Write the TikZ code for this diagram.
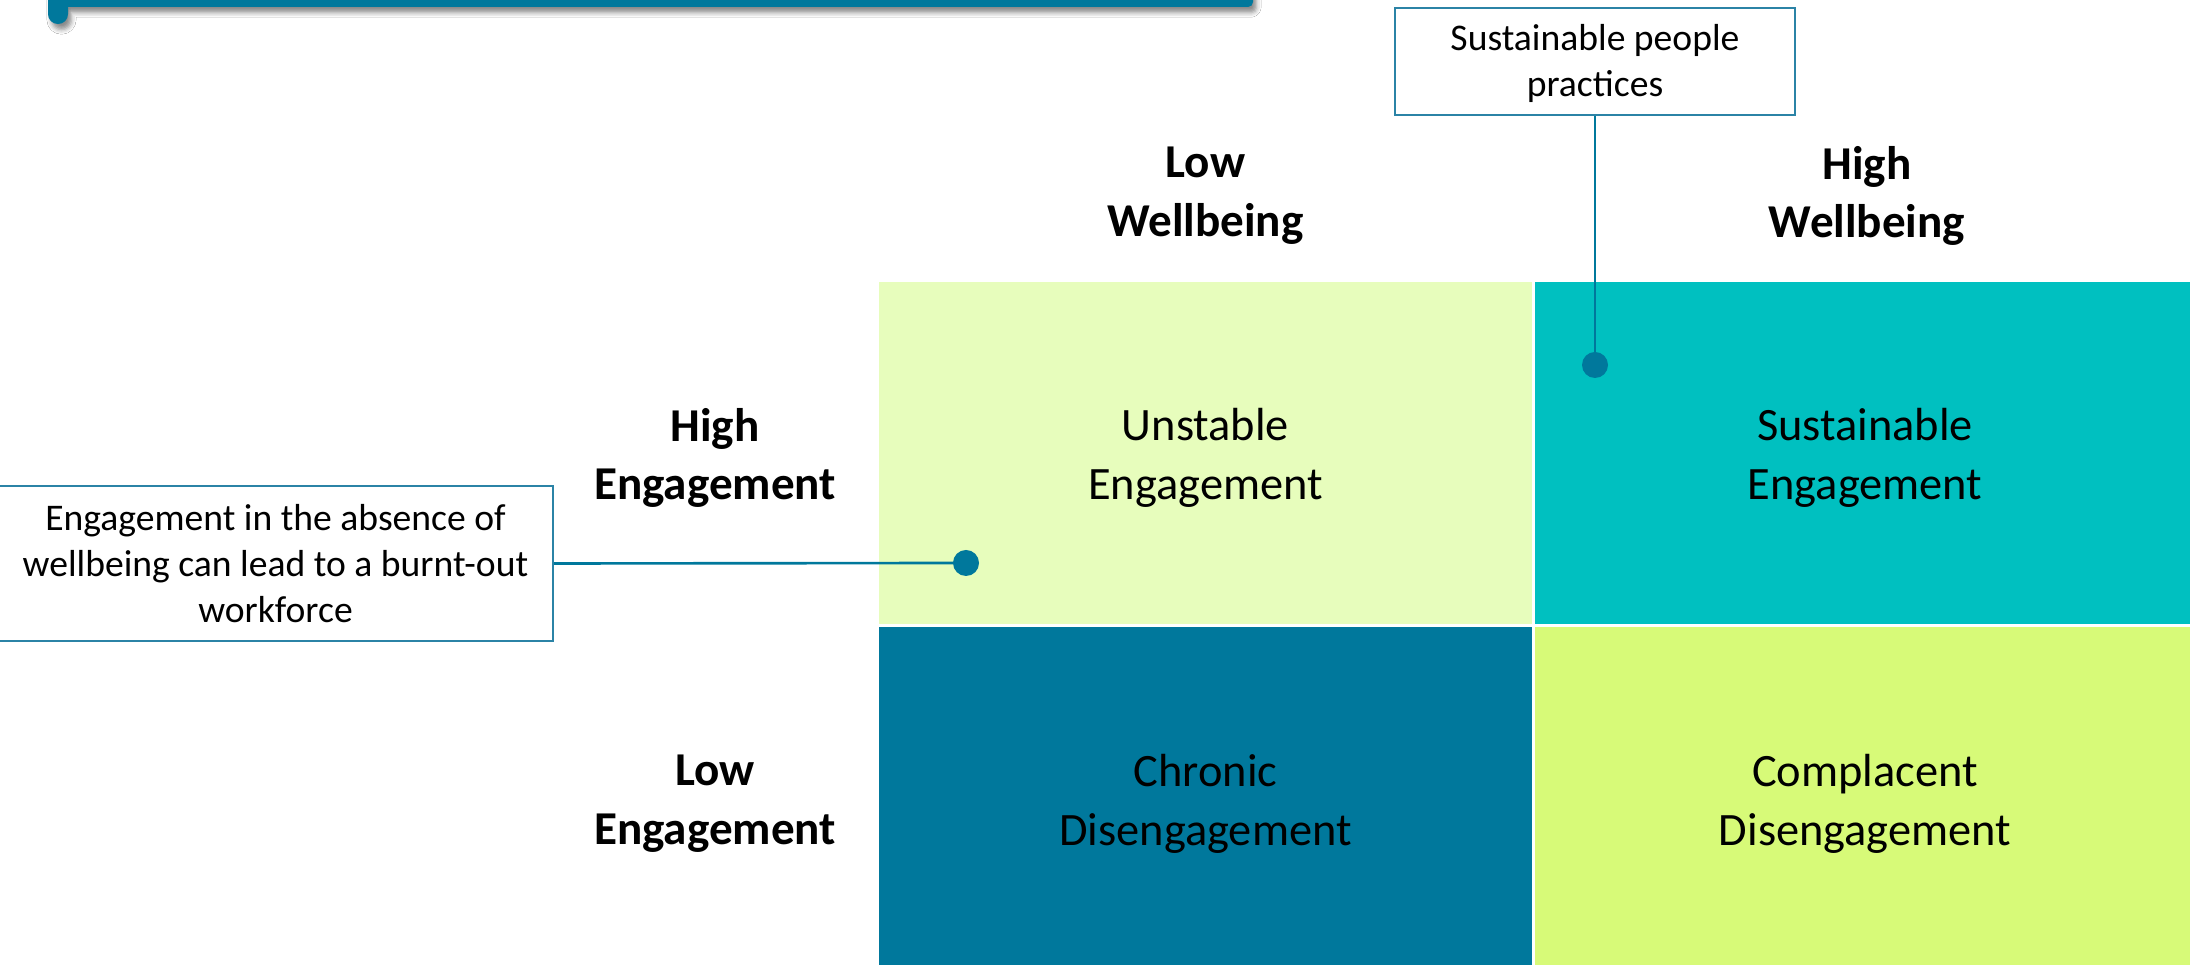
\documentclass[tikz,border=0pt]{standalone}
\usepackage{fontspec}
\setmainfont{Carlito}
\usetikzlibrary{shadows.blur}

\definecolor{barblue}{HTML}{00789C}
\definecolor{qlight}{HTML}{E7FDBC}
\definecolor{qteal}{HTML}{00C0C0}
\definecolor{qdark}{HTML}{00789C}
\definecolor{qlime}{HTML}{D7FA78}
\definecolor{boxline}{HTML}{2B83A6}
\definecolor{pinblue}{HTML}{00789C}

\begin{document}
\begin{tikzpicture}[x=0.01cm, y=-0.01cm,
  quadtext/.style={font=\fontsize{13.2}{16.7}\selectfont, align=center, text=black, inner sep=0pt},
  axislabel/.style={font=\fontsize{13.4}{16.7}\selectfont\bfseries, align=center, text=black, inner sep=0pt},
  callout/.style={draw=boxline, line width=0.6pt, fill=white, align=center,
    font=\fontsize{10.7}{13.1}\selectfont, inner sep=0pt},
  pin/.style={circle, fill=pinblue, minimum size=7.4pt, inner sep=0pt},
  leader/.style={draw=pinblue, line width=0.75pt}]

% canvas
\clip (0,0) rectangle (2190,965);
\fill[white] (0,0) rectangle (2190,965);

% title banner edge with its left tab
\fill[barblue, blur shadow={shadow xshift=1pt, shadow yshift=-1.6pt, shadow blur radius=1.3pt, shadow opacity=45}]
  [rounded corners=2.8pt] (48,-40) -- (48,24) -- (68,24)
  [sharp corners] -- (68,7)
  [rounded corners=1.4pt] -- (1253,7) -- (1253,-40)
  [sharp corners] -- cycle;

% quadrant grid
\fill[qlight] (879,282) rectangle (1532,624);
\fill[qteal]  (1535,282) rectangle (2190,624);
\fill[qdark]  (879,627) rectangle (1532,965);
\fill[qlime]  (1535,627) rectangle (2190,965);

% quadrant titles
\node[quadtext] (unstable)   at (1205.5,458) {Unstable\\Engagement};
\node[quadtext] (sustain)    at (1865,458)   {Sustainable\\Engagement};
\node[quadtext] (chronic)    at (1205.5,804) {Chronic\\Disengagement};
\node[quadtext] (complacent) at (1865,804)   {Complacent\\Disengagement};

% axis labels
\node[axislabel] (lowwell)  at (1205.5,196) {Low\\Wellbeing};
\node[axislabel] (highwell) at (1867,196)   {High\\Wellbeing};
\node[axislabel] (higheng)  at (715,458)    {High\\Engagement};
\node[axislabel] (loweng)   at (715,804)    {Low\\Engagement};

% callouts
\node[callout, minimum width=157.9pt, minimum height=44.1pt] (burnout) at (275.5,563.5)
  {Engagement in the absence of\\wellbeing can lead to a burnt-out\\workforce};
\node[callout, minimum width=113.8pt, minimum height=30.4pt] (practices) at (1595,61.5)
  {\rule{0pt}{8.5pt}Sustainable people\\practices};

% leader lines ending in pins
\coordinate (pinLc) at (966,563);
\coordinate (pinRc) at (1595,365);
\draw[leader] (burnout.east) -- (pinLc);
\draw[leader] (practices.south) -- (pinRc);
\node[pin] (pinL) at (pinLc) {};
\node[pin] (pinR) at (pinRc) {};

\end{tikzpicture}
\end{document}
